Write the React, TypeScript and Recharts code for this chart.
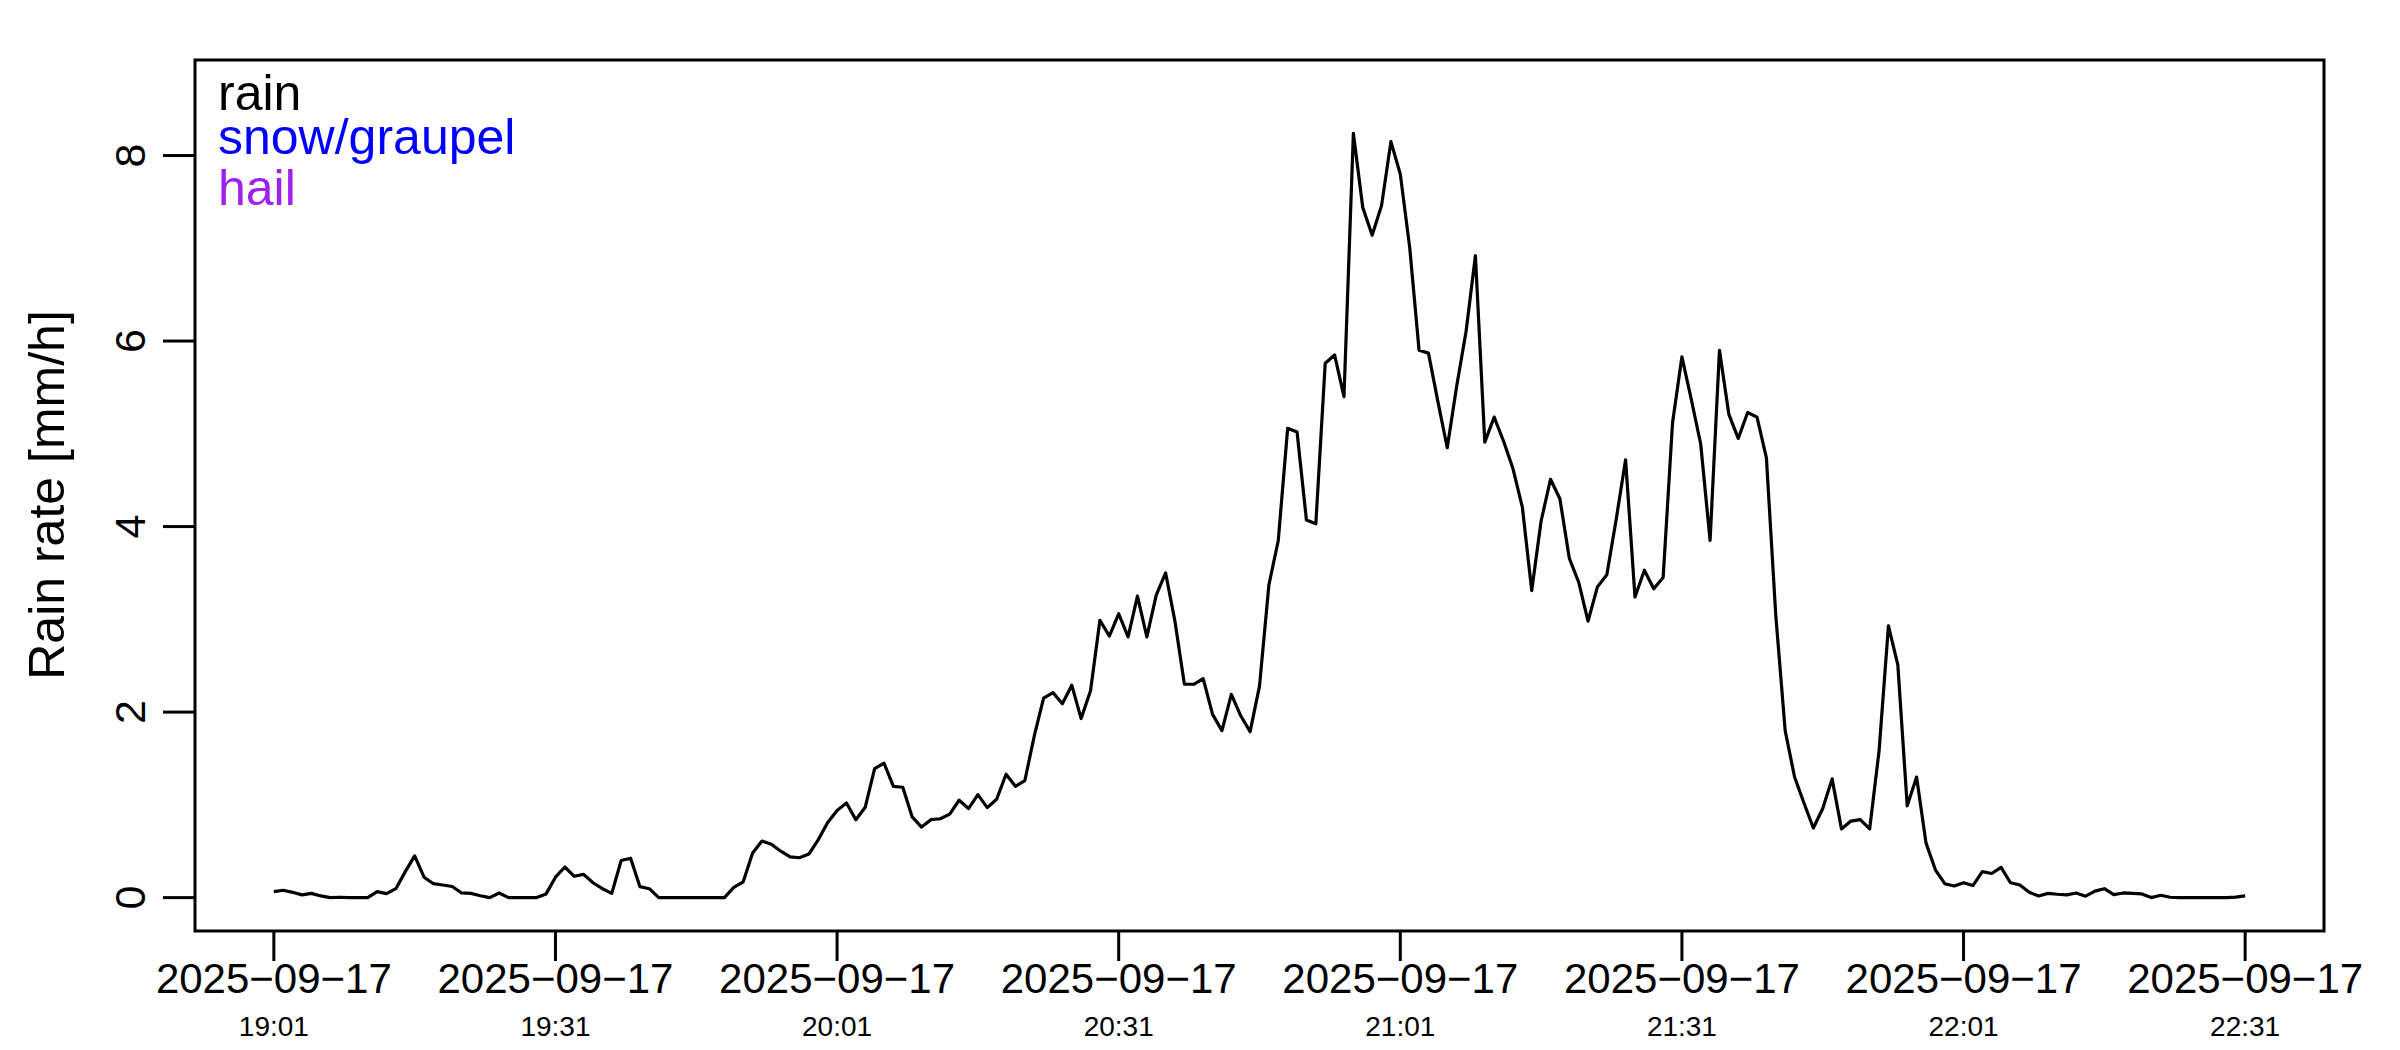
import React from 'react';
import { LineChart, Line, XAxis, YAxis, ReferenceArea } from 'recharts';

// rain rate in mm/h, one value per minute starting at 19:01
const rainRate = [
  0.064, 0.079, 0.057, 0.029, 0.046, 0.018, 0, 0.004, 0, 0,
  0, 0.064, 0.043, 0.096, 0.28, 0.45, 0.22, 0.15, 0.136, 0.12,
  0.05, 0.046, 0.02, 0, 0.05, 0, 0, 0, 0, 0.04,
  0.22, 0.33, 0.23, 0.25, 0.16, 0.096, 0.046, 0.4, 0.425, 0.118,
  0.096, 0, 0, 0, 0, 0, 0, 0, 0, 0.11,
  0.17, 0.48, 0.61, 0.575, 0.5, 0.44, 0.43, 0.47, 0.625, 0.81,
  0.94, 1.02, 0.84, 0.975, 1.39, 1.45, 1.2, 1.19, 0.87, 0.76,
  0.84, 0.85, 0.9, 1.05, 0.96, 1.11, 0.97, 1.06, 1.33, 1.2,
  1.26, 1.74, 2.15, 2.21, 2.09, 2.29, 1.93, 2.23, 2.99, 2.82,
  3.06, 2.81, 3.25, 2.81, 3.26, 3.5, 2.975, 2.3, 2.3, 2.36,
  1.975, 1.8, 2.19, 1.96, 1.79, 2.28, 3.37, 3.85, 5.06, 5.02,
  4.07, 4.03, 5.76, 5.85, 5.4, 8.24, 7.44, 7.14, 7.46, 8.15,
  7.8, 7.01, 5.9, 5.87, 5.35, 4.85, 5.51, 6.1, 6.92, 4.91,
  5.18, 4.92, 4.625, 4.21, 3.31, 4.06, 4.51, 4.3, 3.66, 3.4,
  2.98, 3.35, 3.48, 4.08, 4.72, 3.24, 3.53, 3.33, 3.45, 5.12,
  5.83, 5.37, 4.89, 3.85, 5.9, 5.21, 4.95, 5.23, 5.18, 4.74,
  3.04, 1.8, 1.3, 1.02, 0.75, 0.96, 1.28, 0.74, 0.825, 0.84,
  0.74, 1.58, 2.93, 2.51, 0.99, 1.3, 0.59, 0.3, 0.15, 0.125,
  0.16, 0.13, 0.28, 0.26, 0.325, 0.16, 0.136, 0.057, 0.018, 0.046,
  0.036, 0.029, 0.05, 0.015, 0.07, 0.096, 0.032, 0.05, 0.046, 0.04,
  0, 0.025, 0.004, 0, 0, 0, 0, 0, 0, 0.005,
  0.018,
];

// minutes after 19:01 where the x ticks sit
const xTicks = [0, 30, 60, 90, 120, 150, 180, 210];
const xTickDates = ['2025−09−17', '2025−09−17', '2025−09−17', '2025−09−17', '2025−09−17', '2025−09−17', '2025−09−17', '2025−09−17'];
const xTickTimes = ['19:01', '19:31', '20:01', '20:31', '21:01', '21:31', '22:01', '22:31'];
const yTicks = [0, 2, 4, 6, 8];

const legendItems = [
  { label: 'rain', color: '#000000' },
  { label: 'snow/graupel', color: '#0000ff' },
  { label: 'hail', color: '#a020f0' },
];

const data = rainRate.map((v, i) => ({ t: i, rain: v }));

const FONT = '"Liberation Sans", Arial, Helvetica, sans-serif';
const X_DOMAIN: [number, number] = [-8.4, 218.4];
const Y_DOMAIN: [number, number] = [-0.36, 9.03];

function XTick(props: any) {
  const { x, payload } = props;
  const i = xTicks.indexOf(payload.value);
  return (
    <g>
      <text x={x} y={993} textAnchor="middle" fontSize={42} fill="#000" fontFamily={FONT}>
        {xTickDates[i]}
      </text>
      <text x={x} y={1036} textAnchor="middle" fontSize={28} fill="#000" fontFamily={FONT}>
        {xTickTimes[i]}
      </text>
    </g>
  );
}

function YTick(props: any) {
  const { y, payload } = props;
  const bx = 145;
  return (
    <text
      x={bx}
      y={y}
      transform={`rotate(-90 ${bx} ${y})`}
      textAnchor="middle"
      fontSize={43}
      fill="#000"
      fontFamily={FONT}
    >
      {payload.value}
    </text>
  );
}

export default function App() {
  const legendBaselines = [110, 154, 205];
  return (
    <div style={{ position: 'absolute', left: 0, top: 0, width: 2400, height: 1050, background: '#fff' }}>
      <LineChart width={2400} height={1050} data={data} margin={{ top: 60, right: 76, bottom: 0, left: 0 }}>
        <XAxis
          dataKey="t"
          type="number"
          domain={X_DOMAIN}
          allowDataOverflow
          ticks={xTicks}
          interval={0}
          height={119}
          axisLine={false}
          tickSize={30}
          tickLine={{ stroke: '#000', strokeWidth: 3 }}
          tick={<XTick />}
        />
        <YAxis
          type="number"
          domain={Y_DOMAIN}
          allowDataOverflow
          ticks={yTicks}
          interval={0}
          width={195}
          axisLine={false}
          tickSize={32}
          tickLine={{ stroke: '#000', strokeWidth: 3 }}
          tick={<YTick />}
          label={{
            content: () => (
              <text
                x={64}
                y={495}
                transform="rotate(-90 64 495)"
                textAnchor="middle"
                fontSize={50}
                fill="#000"
                fontFamily={FONT}
              >
                Rain rate [mm/h]
              </text>
            ),
          }}
        />
        <ReferenceArea
          x1={X_DOMAIN[0]}
          x2={X_DOMAIN[1]}
          y1={Y_DOMAIN[0]}
          y2={Y_DOMAIN[1]}
          fill="none"
          fillOpacity={0}
          stroke="#000"
          strokeWidth={3}
          ifOverflow="visible"
        />
        <Line
          type="linear"
          dataKey="rain"
          stroke="#000"
          strokeWidth={3.2}
          dot={false}
          isAnimationActive={false}
          strokeLinejoin="round"
        />
      </LineChart>
      <svg width={2400} height={1050} style={{ position: 'absolute', left: 0, top: 0, pointerEvents: 'none' }}>
        {legendItems.map((item, i) => (
          <text key={item.label} x={218} y={legendBaselines[i]} fontSize={50} fill={item.color} fontFamily={FONT}>
            {item.label}
          </text>
        ))}
      </svg>
    </div>
  );
}
